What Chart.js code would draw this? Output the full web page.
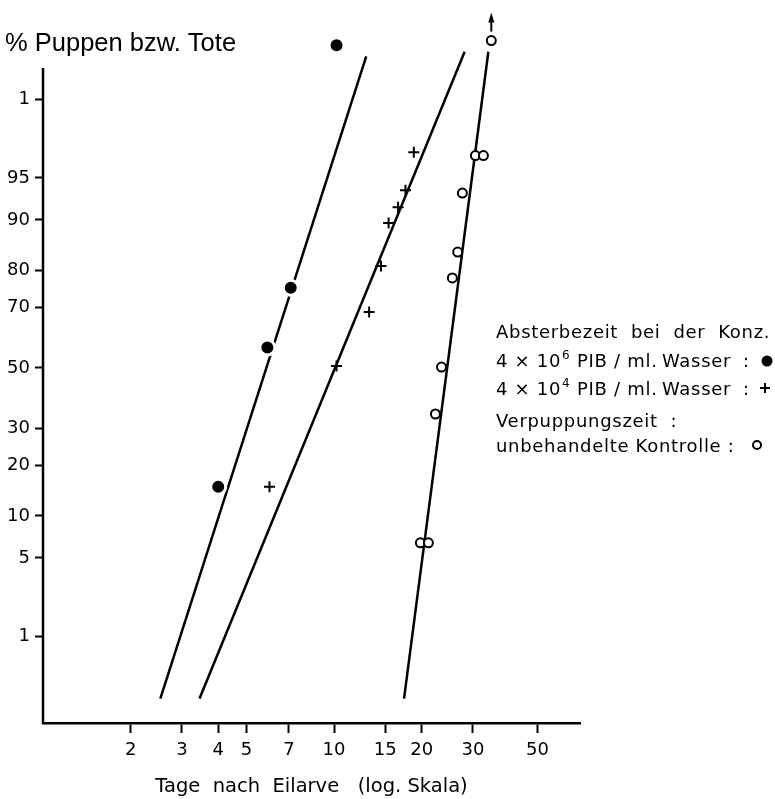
<!DOCTYPE html>
<html>
<head>
<meta charset="utf-8">
<script src="https://cdn.jsdelivr.net/npm/chart.js@4"></script>
<style>
  body { margin: 0; background: #fff; }
  canvas { display: block; }
</style>
</head>
<body>
<canvas id="myChart" width="775" height="799"></canvas>
<script>
// axis ticks
const xTicks = [2, 3, 4, 5, 7, 10, 15, 20, 30, 50];
const yTickPct = [1, 5, 10, 20, 30, 50, 70, 80, 90, 95, 99];
const yTickLabels = ['1', '5', '10', '20', '30', '50', '70', '80', '90', '95', '1'];

// 4 x 10^6 PIB (filled dots)
const dotDays = [4.0, 5.9, 7.1, 10.2];
const dotPct = [15.2, 57, 75.6, 99.74];
// 4 x 10^4 PIB (crosses)
const plusDays = [6.0, 10.2, 13.2, 14.5, 15.4, 16.6, 17.6, 18.8];
const plusPct = [15.2, 50.7, 68.6, 81.1, 89.5, 91.8, 93.8, 96.9];
// untreated control (open circles)
const ringDays = [19.8, 21.1, 22.3, 23.4, 25.5, 26.6, 27.6, 30.6, 32.6, 34.7];
const ringPct = [6.5, 6.5, 34.5, 50.3, 78.2, 84.2, 93.5, 96.7, 96.7, 99.77];

// fitted lines (end points)
const fitDotDays = [2.53, 12.9];
const fitDotPct = [0.21, 99.65];
const fitPlusDays = [3.45, 28.1];
const fitPlusPct = [0.21, 99.69];
const fitRingDays = [17.4, 33.9];
const fitRingPct = [0.21, 99.69];

// y range in percent (plot area goes a bit above the drawn axis line)
const yMinPct = 0.1056;
const yMaxPct = 99.828;
const yAxisTopPct = 99.53;

// inverse normal (probit), Acklam's approximation
function probit(p) {
    const a = [-39.6968302866538, 220.946098424521, -275.928510446969, 138.357751867269, -30.6647980661472, 2.50662827745924];
    const b = [-54.4760987982241, 161.585836858041, -155.698979859887, 66.8013118877197, -13.2806815528857];
    const c = [-0.00778489400243029, -0.322396458041136, -2.40075827716184, -2.54973253934373, 4.37466414146497, 2.93816398269878];
    const d = [0.00778469570904146, 0.32246712907004, 2.445134137143, 3.75440866190742];
    const pl = 0.02425;
    let q, r;
    if (p < pl) {
        q = Math.sqrt(-2 * Math.log(p));
        return (((((c[0] * q + c[1]) * q + c[2]) * q + c[3]) * q + c[4]) * q + c[5]) /
            ((((d[0] * q + d[1]) * q + d[2]) * q + d[3]) * q + 1);
    }
    if (p > 1 - pl) {
        q = Math.sqrt(-2 * Math.log(1 - p));
        return -(((((c[0] * q + c[1]) * q + c[2]) * q + c[3]) * q + c[4]) * q + c[5]) /
            ((((d[0] * q + d[1]) * q + d[2]) * q + d[3]) * q + 1);
    }
    q = p - 0.5;
    r = q * q;
    return (((((a[0] * r + a[1]) * r + a[2]) * r + a[3]) * r + a[4]) * r + a[5]) * q /
        (((((b[0] * r + b[1]) * r + b[2]) * r + b[3]) * r + b[4]) * r + 1);
}

function toPoints(days, pct) {
    return days.map((d, i) => ({ x: d, y: probit(pct[i] / 100) }));
}

const tickFont = { family: 'DejaVu Sans', size: 18 };

// y axis line, title, legend text and the arrow above the last control point
const extras = {
    id: 'extras',
    afterDraw(chart) {
        const ctx = chart.ctx;
        const xs = chart.scales.x, ys = chart.scales.y;
        ctx.save();
        ctx.fillStyle = '#000';
        ctx.strokeStyle = '#000';

        // y axis line, from the bottom up to its own top
        ctx.lineWidth = 2.5;
        ctx.beginPath();
        ctx.moveTo(xs.left, ys.bottom + 1);
        ctx.lineTo(xs.left, ys.getPixelForValue(probit(yAxisTopPct / 100)));
        ctx.stroke();

        ctx.textBaseline = 'alphabetic';
        ctx.textAlign = 'left';
        ctx.font = '25.5px "Liberation Sans"';
        ctx.fillText('% Puppen bzw. Tote', 5, 51);

        const x0 = 496;
        const big = '18px "DejaVu Sans"';
        const small = '12px "DejaVu Sans"';
        ctx.letterSpacing = '0.7px';
        ctx.font = big;
        ctx.fillText('Absterbezeit  bei  der  Konz.', x0, 338);

        function concLine(exp, y) {
            ctx.font = big;
            ctx.fillText('4 × 10', x0, y);
            const w = ctx.measureText('4 × 10').width;
            ctx.font = small;
            ctx.fillText(exp, x0 + w + 1, y - 8);
            ctx.font = big;
            ctx.fillText('PIB / ml.', 577, y);
            ctx.fillText('Wasser', 662, y);
            ctx.fillText(':', 743, y);
        }
        concLine('6', 367);
        concLine('4', 395);
        ctx.font = big;
        ctx.fillText('Verpuppungszeit  :', x0, 427);
        ctx.fillText('unbehandelte Kontrolle :', x0, 452);

        // legend markers
        ctx.beginPath();
        ctx.arc(767, 361, 5.5, 0, Math.PI * 2);
        ctx.fill();
        ctx.lineWidth = 2;
        ctx.beginPath();
        ctx.moveTo(760, 388); ctx.lineTo(770, 388);
        ctx.moveTo(765, 383); ctx.lineTo(765, 393);
        ctx.stroke();
        ctx.beginPath();
        ctx.arc(757, 445, 4, 0, Math.PI * 2);
        ctx.stroke();

        // arrow above the top control point
        const last = ringDays.length - 1;
        const ax = xs.getPixelForValue(ringDays[last]);
        const ay = ys.getPixelForValue(probit(ringPct[last] / 100));
        ctx.lineWidth = 2;
        ctx.beginPath();
        ctx.moveTo(ax, ay - 9);
        ctx.lineTo(ax, ay - 20);
        ctx.stroke();
        ctx.beginPath();
        ctx.moveTo(ax, ay - 28);
        ctx.lineTo(ax - 3, ay - 18);
        ctx.lineTo(ax + 3, ay - 18);
        ctx.closePath();
        ctx.fill();
        ctx.restore();
    }
};

let ctx = document.getElementById('myChart').getContext('2d');

let myChart = new Chart(ctx, {
    type: 'scatter',
    data: {
        datasets: [
            {
                data: toPoints(dotDays, dotPct),
                pointStyle: 'circle',
                pointRadius: 7.5,
                backgroundColor: '#000',
                borderColor: '#fff',
                borderWidth: 3,
                clip: false
            },
            {
                data: toPoints(plusDays, plusPct),
                pointStyle: 'cross',
                pointRadius: 5.5,
                borderColor: '#000',
                borderWidth: 2,
                clip: false
            },
            {
                data: toPoints(ringDays, ringPct),
                pointStyle: 'circle',
                pointRadius: 4.5,
                backgroundColor: '#fff',
                borderColor: '#000',
                borderWidth: 2,
                clip: false
            },
            {
                data: toPoints(fitDotDays, fitDotPct),
                showLine: true,
                pointRadius: 0,
                borderColor: '#000',
                borderWidth: 2.5,
                clip: false
            },
            {
                data: toPoints(fitPlusDays, fitPlusPct),
                showLine: true,
                pointRadius: 0,
                borderColor: '#000',
                borderWidth: 2.5,
                clip: false
            },
            {
                data: toPoints(fitRingDays, fitRingPct),
                showLine: true,
                pointRadius: 0,
                borderColor: '#000',
                borderWidth: 2.5,
                clip: false
            }
        ]
    },
    options: {
        responsive: false,
        animation: false,
        layout: {
            padding: { top: 30, right: 195, left: 0, bottom: 0 }
        },
        scales: {
            x: {
                type: 'logarithmic',
                min: 1,
                max: 70,
                afterBuildTicks: s => { s.ticks = xTicks.map(v => ({ value: v })); },
                afterFit: s => { s.height = 76; },
                ticks: {
                    callback: v => String(v),
                    color: '#000',
                    font: tickFont,
                    padding: 7,
                    maxRotation: 0,
                    autoSkip: false
                },
                grid: {
                    drawOnChartArea: false,
                    drawTicks: true,
                    tickLength: 10,
                    tickWidth: 2,
                    color: '#000'
                },
                border: { color: '#000', width: 2.5 },
                title: {
                    display: true,
                    text: 'Tage  nach  Eilarve   (log. Skala)',
                    color: '#000',
                    font: { family: 'DejaVu Sans', size: 19.5 },
                    padding: { top: 0, bottom: 0 }
                }
            },
            y: {
                type: 'linear',
                min: probit(yMinPct / 100),
                max: probit(yMaxPct / 100),
                afterBuildTicks: s => { s.ticks = yTickPct.map(p => ({ value: probit(p / 100) })); },
                afterFit: s => { s.width = 43; },
                ticks: {
                    callback: (v, i) => yTickLabels[i],
                    color: '#000',
                    font: tickFont,
                    padding: 5
                },
                grid: {
                    drawOnChartArea: false,
                    drawTicks: true,
                    tickLength: 8,
                    tickWidth: 2,
                    color: '#000'
                },
                border: { display: false }
            }
        },
        plugins: {
            legend: { display: false },
            tooltip: { enabled: false }
        }
    },
    plugins: [extras]
});
</script>
</body>
</html>
